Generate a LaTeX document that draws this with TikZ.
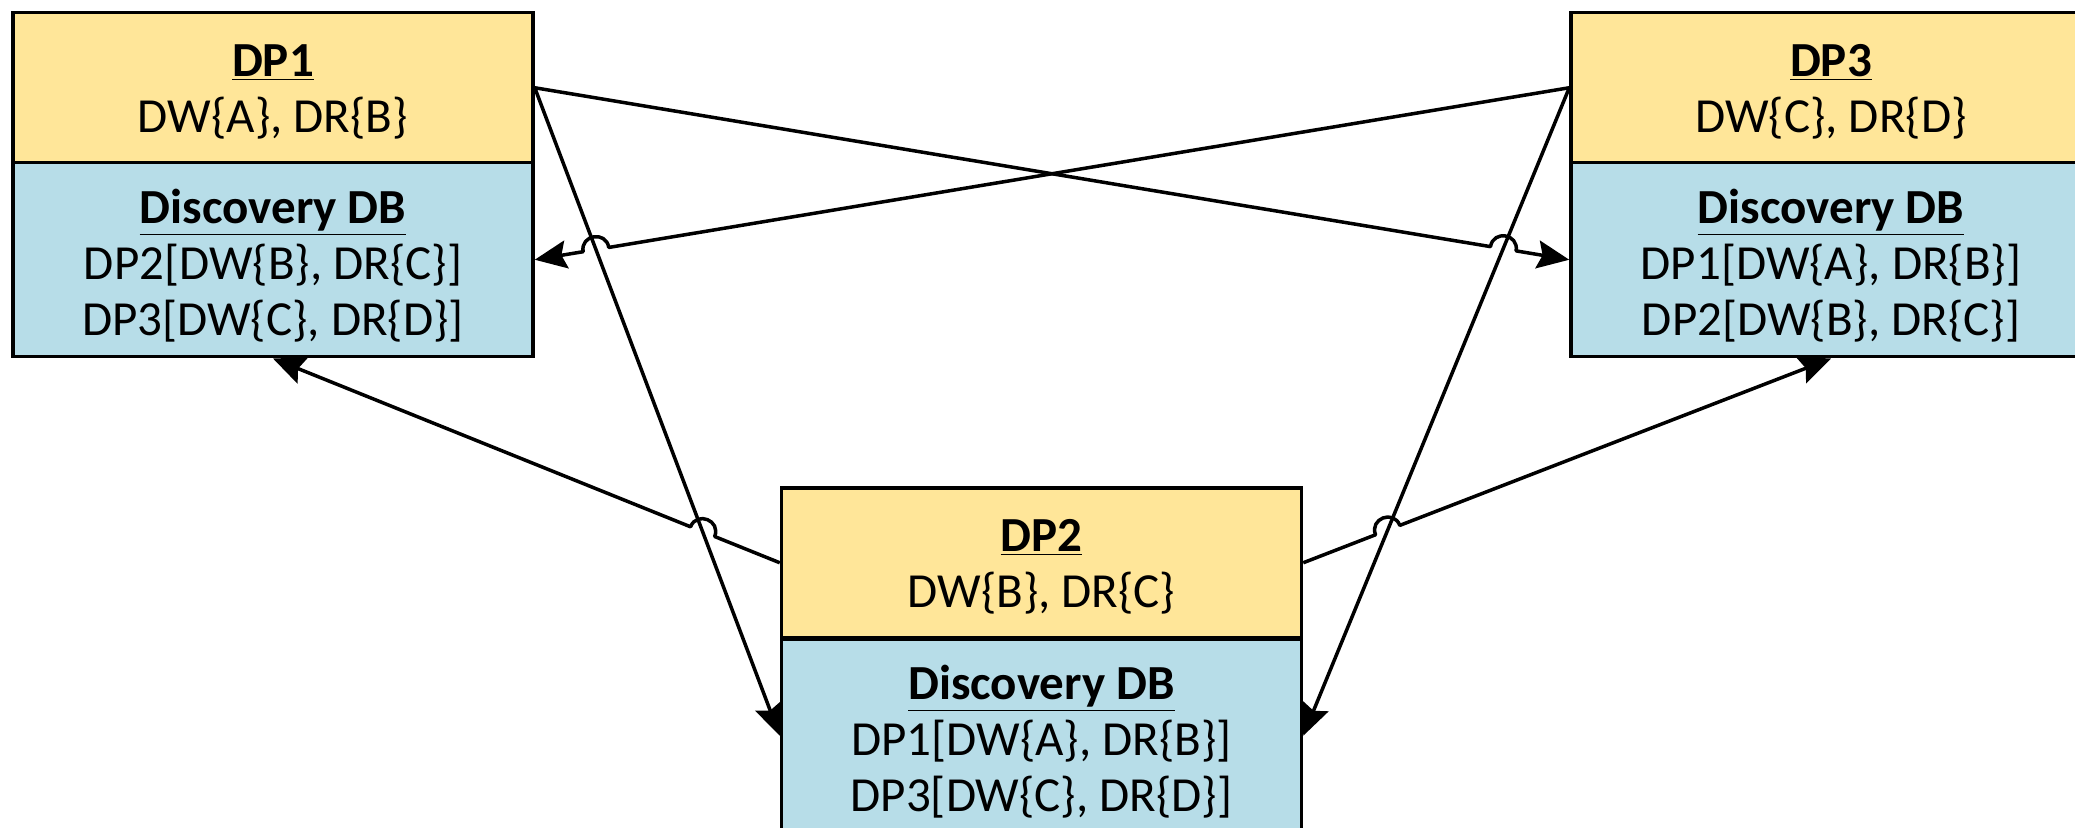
\documentclass[tikz,border=0pt]{standalone}
\usepackage{fontspec}
\setmainfont{Carlito}
\usetikzlibrary{calc,arrows.meta}
\definecolor{hdr}{HTML}{FFE699}
\definecolor{dbc}{HTML}{B7DDE8}
\begin{document}
\begin{tikzpicture}[x=0.5pt,y=-0.5pt,
  part/.style={draw, line width=1.75pt, minimum width=260pt, anchor=north, inner sep=0pt},
  tophalf/.style={part, fill=hdr, minimum height=75pt},
  bothalf/.style={part, fill=dbc, minimum height=97pt},
  txt/.style={align=center, inner sep=0pt, font=\fontsize{24.5}{28}\selectfont},
  arr/.style={line width=1.75pt, line join=round,
    -{Stealth[length=16pt,width=14pt,inset=2.5pt]}},
  hopl/.style={bend left=90, looseness=1.7},
  hopr/.style={bend right=90, looseness=1.7}
]
\useasboundingbox (0,0) rectangle (2075,828);
\clip (0,0) rectangle (2075,828);

% boxes
\node[tophalf] (DP1t) at (273,11) {};
\node[bothalf] (DP1b) at (273,161) {};
\node[tophalf] (DP3t) at (1831,11) {};
\node[bothalf] (DP3b) at (1831,161) {};
\node[tophalf] (DP2t) at (1041.5,486) {};
\node[bothalf] (DP2b) at (1041.5,637) {};

% texts
\node[txt] (T1t) at ($(DP1t.center)+(0,4)$) {\textbf{\underline{DP1}}\\DW\{A\}, DR\{B\}};
\node[txt] (T1b) at ($(DP1b.center)+(0,6)$) {\textbf{\underline{Discovery DB}}\\DP2[DW\{B\}, DR\{C\}]\\DP3[DW\{C\}, DR\{D\}]};
\node[txt] (T3t) at ($(DP3t.center)+(0,4)$) {\textbf{\underline{DP3}}\\DW\{C\}, DR\{D\}};
\node[txt] (T3b) at ($(DP3b.center)+(0,6)$) {\textbf{\underline{Discovery DB}}\\DP1[DW\{A\}, DR\{B\}]\\DP2[DW\{B\}, DR\{C\}]};
\node[txt] (T2t) at ($(DP2t.center)+(0,4)$) {\textbf{\underline{DP2}}\\DW\{B\}, DR\{C\}};
\node[txt] (T2b) at ($(DP2b.center)+(0,6)$) {\textbf{\underline{Discovery DB}}\\DP1[DW\{A\}, DR\{B\}]\\DP3[DW\{C\}, DR\{D\}]};

% crossing points
\coordinate (XA) at (intersection of DP3t.west--DP1b.east and DP1t.east--DP2b.west);
\coordinate (XB) at (intersection of DP2t.west--DP1b.south and DP1t.east--DP2b.west);
\coordinate (XC) at (intersection of DP1t.east--DP3b.west and DP3t.west--DP2b.east);
\coordinate (XD) at (intersection of DP2t.east--DP3b.south and DP3t.west--DP2b.east);

% straight connectors
\draw[arr] (DP1t.east) -- (DP2b.west);
\draw[arr] (DP3t.west) -- (DP2b.east);

% connectors with line hops
\draw[arr] (DP3t.west) -- ($(XA)!6.5pt!(DP3t.west)$) to[hopr] ($(XA)!6.5pt!(DP1b.east)$) -- (DP1b.east);
\draw[arr] (DP2t.west) -- ($(XB)!6.5pt!(DP2t.west)$) to[hopr] ($(XB)!6.5pt!(DP1b.south)$) -- (DP1b.south);
\draw[arr] (DP1t.east) -- ($(XC)!6.5pt!(DP1t.east)$) to[hopl] ($(XC)!6.5pt!(DP3b.west)$) -- (DP3b.west);
\draw[arr] (DP2t.east) -- ($(XD)!6.5pt!(DP2t.east)$) to[hopl] ($(XD)!6.5pt!(DP3b.south)$) -- (DP3b.south);
\end{tikzpicture}
\end{document}
